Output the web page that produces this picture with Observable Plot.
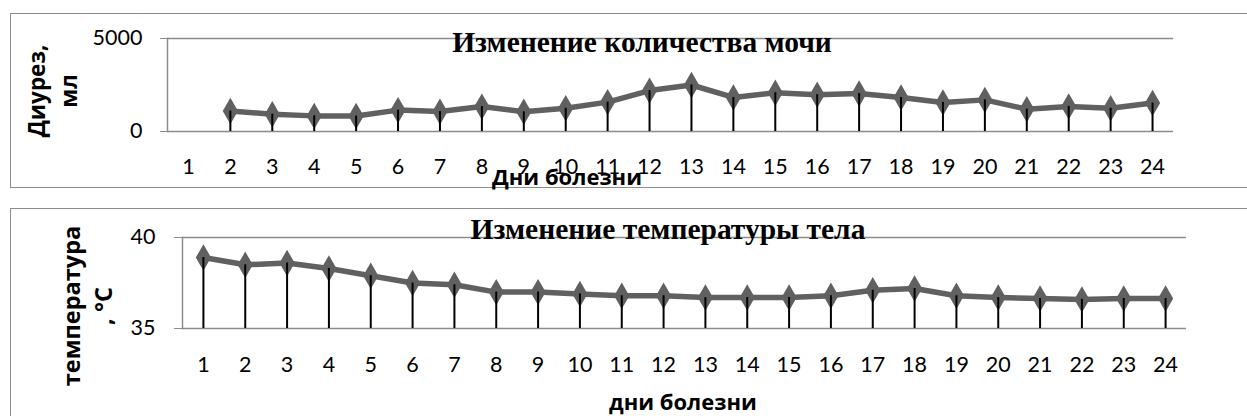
<!DOCTYPE html>
<html><head><meta charset="utf-8">
<script src="https://cdn.jsdelivr.net/npm/d3@7"></script>
<script src="https://cdn.jsdelivr.net/npm/@observablehq/plot@0.6"></script>
<style>
body{margin:0;background:#fff;}
#wrap{position:relative;width:1247px;height:416px;overflow:hidden;font-family:Lato,'Open Sans',sans-serif;}
.box{position:absolute;border:1.5px solid #8c8c8c;box-sizing:border-box;}
.svgpos{position:absolute;left:0;}
.title{position:absolute;font-family:'Liberation Serif',serif;font-weight:bold;font-size:29.5px;white-space:nowrap;transform:translate(-50%,-50%);line-height:1;}
.xt{position:absolute;font-family:'Open Sans',sans-serif;font-weight:bold;font-size:22px;white-space:nowrap;transform:translate(-50%,-50%);line-height:1;}
.yt{position:absolute;font-family:'Open Sans',sans-serif;font-weight:bold;font-size:23.5px;white-space:nowrap;text-align:center;line-height:32px;transform:translate(-50%,-50%) rotate(-90deg);}
</style></head>
<body>
<div id="wrap">
  <div class="box" style="left:10px;top:13px;width:1250px;height:175px;"></div>
  <div class="box" style="left:10px;top:208px;width:1250px;height:220px;"></div>
  <div id="p1" class="svgpos" style="top:0px"></div>
  <div id="p2" class="svgpos" style="top:200px"></div>
  <div class="title" style="left:642px;top:43px;">Изменение количества мочи</div>
  <div class="title" style="left:668px;top:230px;">Изменение температуры тела</div>
  <div class="xt" style="left:567px;top:176px;">Дни болезни</div>
  <div class="xt" style="left:683px;top:401px;">дни болезни</div>
  <div class="yt" style="left:53px;top:91px;font-size:22.5px;">Диурез,<br>мл</div>
  <div class="yt" style="left:87px;top:306px;">температура<br>, °С</div>
</div>
<script>
const days = [1,2,3,4,5,6,7,8,9,10,11,12,13,14,15,16,17,18,19,20,21,22,23,24];
const diuresis = [null,1100,930,840,830,1150,1070,1340,1060,1250,1580,2200,2500,1830,2080,1980,2040,1830,1560,1700,1200,1350,1250,1530];
const temperature = [38.9,38.5,38.6,38.3,37.9,37.5,37.4,37.0,37.0,36.9,36.8,36.8,36.7,36.7,36.7,36.8,37.1,37.2,36.8,36.7,36.65,36.6,36.65,36.65];
const diuresisTicks = [0,5000];
const temperatureTicks = [35,40];

const lineColor = "#606060", gridColor = "#8c8c8c";

function panel({values, ticks, height, mt, mb, ml, mr, tickSize, tickPadding, xPad}) {
  const data = days.map((d,i) => ({day: d, v: values[i]}));
  const base = ticks[0];
  return Plot.plot({
    width: 1247, height,
    marginTop: mt, marginBottom: mb, marginLeft: ml, marginRight: mr,
    style: {fontFamily: "Lato, 'Open Sans', sans-serif", fontSize: "21.5px", color: "#000", background: "transparent", overflow: "visible"},
    x: {type: "band", domain: days, padding: 0, round: false, label: null},
    y: {domain: ticks, label: null},
    marks: [
      Plot.ruleY(ticks, {stroke: gridColor, strokeWidth: 1.5}),
      Plot.frame({anchor: "left", stroke: gridColor, strokeWidth: 1.5}),
      Plot.axisY({ticks: ticks, tickSize, tickPadding, stroke: gridColor, fill: "#000", label: null, tickFormat: d => String(d)}),
      Plot.axisX({tickSize: 0, tickPadding: xPad, label: null, fill: "#000"}),
      Plot.line(data, {x: "day", y: "v", stroke: lineColor, strokeWidth: 5.5}),
      Plot.dot(data.filter(d => d.v != null), {x: "day", y: "v", symbol: "diamond", r: 8, fill: lineColor}),
      Plot.ruleX(data.filter(d => d.v != null), {x: "day", y1: base, y2: "v", stroke: "#000", strokeWidth: 2})
    ]
  });
}

document.getElementById("p1").appendChild(panel({values: diuresis, ticks: diuresisTicks, height: 200, mt: 38, mb: 69, ml: 167, mr: 74, tickSize: 7, tickPadding: 18, xPad: 27}));
document.getElementById("p2").appendChild(panel({values: temperature, ticks: temperatureTicks, height: 216, mt: 37, mb: 88, ml: 182, mr: 61, tickSize: 8, tickPadding: 19, xPad: 28}));
</script>
</body></html>
